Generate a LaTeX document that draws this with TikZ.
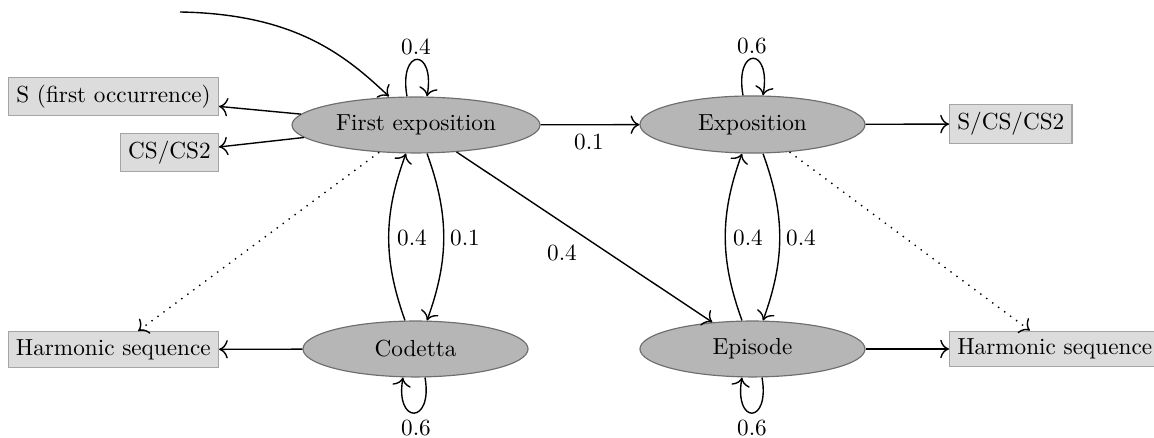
\documentclass[tikz,border=0pt]{standalone}
\usetikzlibrary{shapes.geometric,calc,arrows.meta}
\definecolor{ellfill}{RGB}{182,182,182}
\definecolor{elldraw}{RGB}{110,110,110}
\definecolor{boxfill}{RGB}{220,220,220}
\definecolor{boxdraw}{RGB}{165,165,165}
\begin{document}
\begin{tikzpicture}[x=0.431pt,y=0.431pt,
  state/.style={ellipse,fill=ellfill,draw=elldraw,line width=0.5pt,inner sep=0pt,minimum height=24.1pt,minimum width=97pt},
  outbox/.style={rectangle,fill=boxfill,draw=boxdraw,line width=0.5pt},
  edge/.style={-{To[scale=1.3]},line width=0.6pt},
  dotedge/.style={-{To[scale=1.3]},line width=0.6pt,dash pattern=on 0.6pt off 2.6pt},
  lbl/.style={inner sep=1pt}]
\useasboundingbox (0,0) rectangle (1154,438);
% states
\node[state,minimum width=106.9pt] (fe) at (416,313) {First exposition};
\node[state] (cod) at (415.5,89) {Codetta};
\node[state,minimum height=24.6pt] (exp) at (752.5,313.5) {Exposition};
\node[state] (epi) at (752.5,89) {Episode};
% output boxes
\node[outbox,anchor=east] (s1) at (219,341.5) {S (first occurrence)};
\node[outbox,anchor=east] (cs) at (219,285.5) {CS/CS2};
\node[outbox,anchor=east] (hs1) at (219,88.5) {Harmonic sequence};
\node[outbox,anchor=west] (scs) at (949,314) {S/CS/CS2};
\node[outbox,anchor=west] (hs2) at (949,89) {Harmonic sequence};
\coordinate (startpt) at (180,426);
% initial arrow
\draw[edge] (startpt) .. controls (295,424) and (345,383) .. ($(fe.north)+(-27,0)$);
% self loops
\draw[edge] ($(fe.north)+(-9,0)$) .. controls +(100:50) and +(80:50) .. ($(fe.north)+(11,0)$);
\draw[edge] ($(exp.north)+(-9.5,0)$) .. controls +(100:50) and +(80:50) .. ($(exp.north)+(10.5,0)$);
\draw[edge] ($(cod.south)+(9.5,0)$) .. controls +(-80:48) and +(-100:48) .. ($(cod.south)+(-12.5,0)$);
\draw[edge] ($(epi.south)+(9.5,0)$) .. controls +(-80:48) and +(-100:48) .. ($(epi.south)+(-10.5,0)$);
% vertical arcs
\draw[edge] ($(cod.north)+(-10.5,0)$) to[bend left=20] ($(fe.south)+(-10,0)$);
\draw[edge] ($(fe.south)+(11,0)$) to[bend left=20] ($(cod.north)+(11.5,0)$);
\draw[edge] ($(epi.north)+(-10.5,0)$) to[bend left=20] ($(exp.south)+(-10.5,0)$);
\draw[edge] ($(exp.south)+(10.5,0)$) to[bend left=20] ($(epi.north)+(10.5,0)$);
% straight edges
\draw[edge] (fe) -- (exp);
\draw[edge] (fe) -- (epi);
\draw[edge] (fe) -- (s1);
\draw[edge] (fe) -- (cs);
\draw[edge] (cod) -- (hs1);
\draw[edge] (exp) -- (scs);
\draw[edge] (epi) -- (hs2);
\draw[dotedge] (fe) -- (hs1);
\draw[dotedge] (exp) -- (hs2);
% labels
\node[lbl] (l1) at (416,391) {0.4};
\node[lbl] (l2) at (752,392) {0.6};
\node[lbl] (l3) at (416,10) {0.6};
\node[lbl] (l4) at (752,10) {0.6};
\node[lbl] (l5) at (589,296) {0.1};
\node[lbl] (l6) at (412,200) {0.4};
\node[lbl] (l7) at (465,200) {0.1};
\node[lbl] (l8) at (748,200) {0.4};
\node[lbl] (l9) at (801,200) {0.4};
\node[lbl] (l10) at (562,185) {0.4};
\end{tikzpicture}
\end{document}
